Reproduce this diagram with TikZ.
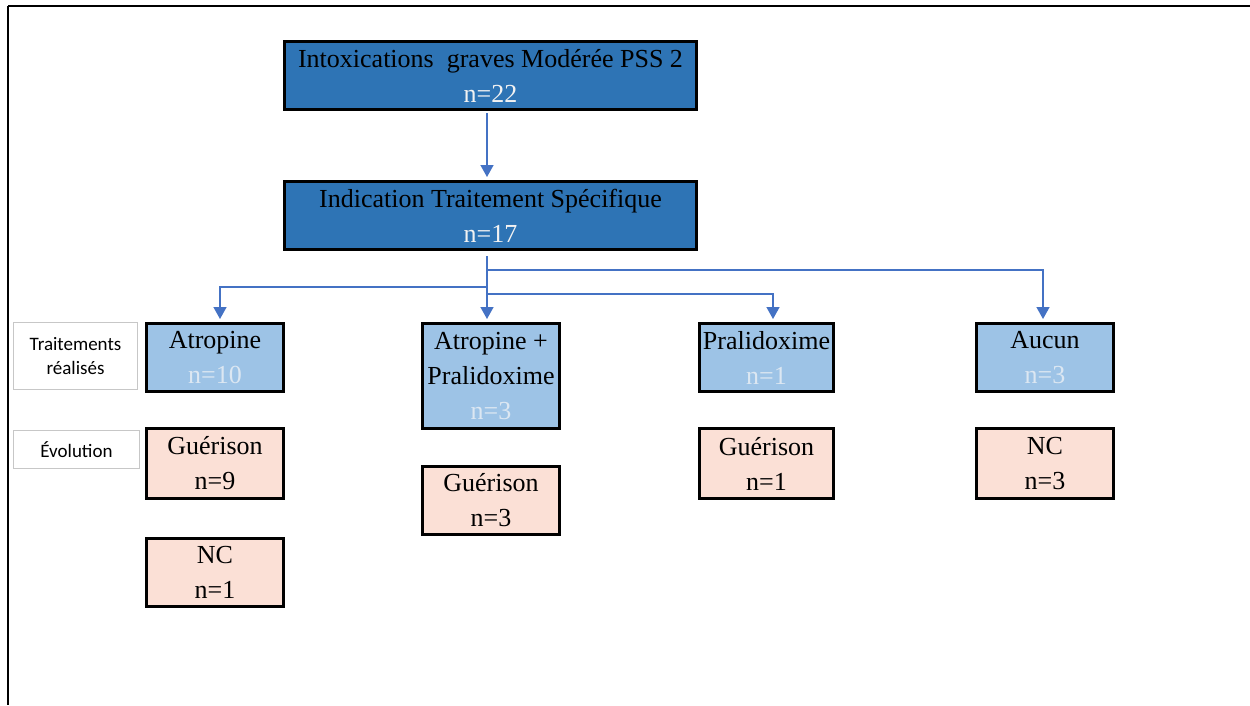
\documentclass[tikz,border=0pt]{standalone}
\usepackage{fontspec}
\setmainfont{Liberation Serif}
\newfontfamily\labelfont{Carlito}
\usetikzlibrary{arrows.meta}
\definecolor{headblue}{HTML}{2E74B5}
\definecolor{treatblue}{HTML}{9DC3E6}
\definecolor{outpink}{HTML}{FBE0D6}
\definecolor{linkblue}{HTML}{4472C4}
\definecolor{softwhite}{HTML}{F2F2F2}
\definecolor{paletext}{HTML}{DCE7F2}
\begin{document}
\begin{tikzpicture}[x=1pt,y=-1pt,
  box/.style={draw=black, line width=3pt, align=center, inner sep=0pt,
    font=\fontsize{26}{35}\selectfont},
  headbox/.style={box, fill=headblue},
  treatbox/.style={box, fill=treatblue},
  outbox/.style={box, fill=outpink},
  sidelabel/.style={draw=black!22, line width=1.2pt, fill=white, align=center,
    inner sep=0pt, font=\labelfont\fontsize{19}{24}\selectfont},
  link/.style={draw=linkblue, line width=1.5pt},
  arrowlink/.style={link, -{Triangle[width=13pt,length=12pt]}, shorten >=3pt}]
\useasboundingbox (0,0) rectangle (1250,705);
\fill[white] (0,0) rectangle (1250,705);

% outer frame (top and left edges)
\draw[line width=2.5pt] (8,6) -- (1250,6);
\draw[line width=1.3pt] (8,6) -- (8,705);

% header boxes
\node[headbox, minimum width=412pt, minimum height=68pt] (b1) at (490.5,75.5)
  {Intoxications\ \ graves Modérée PSS 2\\\textcolor{softwhite}{n=22}};
\node[headbox, minimum width=412pt, minimum height=68pt] (b2) at (490.5,215.5)
  {Indication Traitement Spécifique\\\textcolor{softwhite}{n=17}};

% treatments
\node[treatbox, minimum width=137pt, minimum height=68pt] (t1) at (215,357.5)
  {Atropine\\\textcolor{paletext}{n=10}};
\node[treatbox, minimum width=137pt, minimum height=105pt] (t2) at (491,376)
  {Atropine +\\Pralidoxime\\\textcolor{paletext}{n=3}};
\node[treatbox, minimum width=134pt, minimum height=68pt] (t3) at (766.5,357.5)
  {Pralidoxime\\\textcolor{paletext}{n=1}};
\node[treatbox, minimum width=137pt, minimum height=68pt] (t4) at (1045,357.5)
  {Aucun\\\textcolor{paletext}{n=3}};

% outcomes
\node[outbox, minimum width=137pt, minimum height=70pt] (e1) at (215,463.5)
  {Guérison\\n=9};
\node[outbox, minimum width=137pt, minimum height=68pt] (e2) at (215,572)
  {NC\\n=1};
\node[outbox, minimum width=137pt, minimum height=68pt] (e3) at (491,500.5)
  {Guérison\\n=3};
\node[outbox, minimum width=134pt, minimum height=70pt] (e4) at (766.5,463.5)
  {Guérison\\n=1};
\node[outbox, minimum width=137pt, minimum height=70pt] (e5) at (1045,463.5)
  {NC\\n=3};

% row labels
\node[sidelabel, minimum width=124pt, minimum height=67pt] (l1) at (75.5,356)
  {Traitements\\réalisés};
\node[sidelabel, minimum width=126pt, minimum height=38pt] (l2) at (76.5,449.5)
  {Évolution};

% connector coordinates
\coordinate (ax) at (487,0);
\coordinate (c1) at (220,0);
\coordinate (c3) at (773,0);
\coordinate (c4) at (1043,0);
\coordinate (tr) at (487,256);
\coordinate (j1) at (487,270);
\coordinate (j2) at (487,287);
\coordinate (j3) at (487,294);

% connectors
\draw[arrowlink, shorten <=2pt] (b1.south -| ax) -- (b2.north -| ax);
\draw[arrowlink] (tr) -- (t2.north -| ax);
\draw[arrowlink] (j1) -| (c4 |- t4.north);
\draw[arrowlink] (j2) -| (c1 |- t1.north);
\draw[arrowlink] (j3) -| (c3 |- t3.north);
\end{tikzpicture}
\end{document}
